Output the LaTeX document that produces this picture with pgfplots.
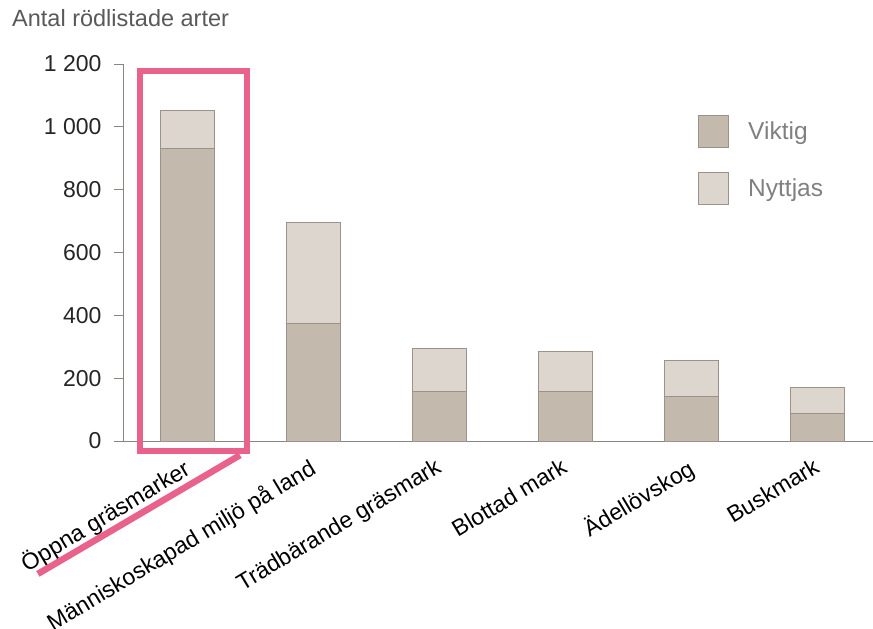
\documentclass[border=0pt]{standalone}
\usepackage{pgfplots}
\pgfplotsset{compat=1.18}
\usepackage{fontspec}
\setmainfont{Liberation Sans}
\definecolor{viktig}{HTML}{C3B9AD}
\definecolor{nyttjas}{HTML}{DDD6CF}
\definecolor{baredge}{HTML}{9C9289}
\definecolor{axisgray}{HTML}{8A8580}
\definecolor{pinkbox}{HTML}{E9628B}
\newcommand{\bigf}{\fontsize{23}{26}\selectfont}
\pgfplotsset{boxlegend/.style={legend image code/.code={\draw[##1] (0pt,-16pt) rectangle (30pt,16pt);}}}
\begin{document}
\begin{tikzpicture}
\useasboundingbox (0pt,0pt) rectangle (873pt,-629pt);
\node[anchor=base west, text=black!65, font=\fontsize{23.5}{26}\selectfont, inner sep=0pt] at (12pt,-27pt) {Antal rödlistade arter};
\begin{axis}[
  at={(123pt,-441pt)}, anchor=south west,
  width=750pt, height=377pt, scale only axis,
  ybar stacked, bar width=54pt,
  xmin=-0.508, xmax=5.44, ymin=0, ymax=1200,
  axis x line*=bottom, axis y line*=left,
  axis line style={axisgray, line width=1pt},
  xtick={0,1,2,3,4,5},
  xticklabels={Öppna gräsmarker, Människoskapad miljö på land, Trädbärande gräsmark, Blottad mark, Ädellövskog, Buskmark},
  x tick style={draw=none},
  ytick={0,200,400,600,800,1000,1200},
  y tick style={axisgray, line width=1pt},
  tick align=outside, major tick length=9pt,
  /pgf/number format/assume math mode=true,
  /pgf/number format/1000 sep={\ },
  yticklabel style={font=\bigf, text=black!85, xshift=-9pt},
  xticklabel style={rotate=31, anchor=north east, font=\bigf, text=black, inner sep=2pt, xshift=-6pt, yshift=-1pt},
  clip=false,
  legend style={at={(0.7667,0.8647)}, anchor=north west, draw=none, fill=none,
    font=\fontsize{24.5}{27}\selectfont, text=black!50, row sep=24pt, inner sep=0pt,
    /tikz/every odd column/.append style={column sep=17pt}},
  legend cell align=left,
]
\addplot[fill=viktig, draw=baredge, line width=1pt, boxlegend]
  coordinates {(0,930) (1,375) (2,159) (3,159) (4,143) (5,89)};
\addplot[fill=nyttjas, draw=baredge, line width=1pt, boxlegend]
  coordinates {(0,123) (1,322) (2,137) (3,127) (4,112) (5,80)};
\legend{Viktig, Nyttjas}
\draw[pinkbox, line width=6.5pt] (axis cs:-0.373,1178) rectangle (axis cs:0.476,-32);
\draw[pinkbox, line width=6.5pt] (axis cs:0.42,-45) -- (axis cs:-1.183,-423);
\end{axis}
\end{tikzpicture}
\end{document}
